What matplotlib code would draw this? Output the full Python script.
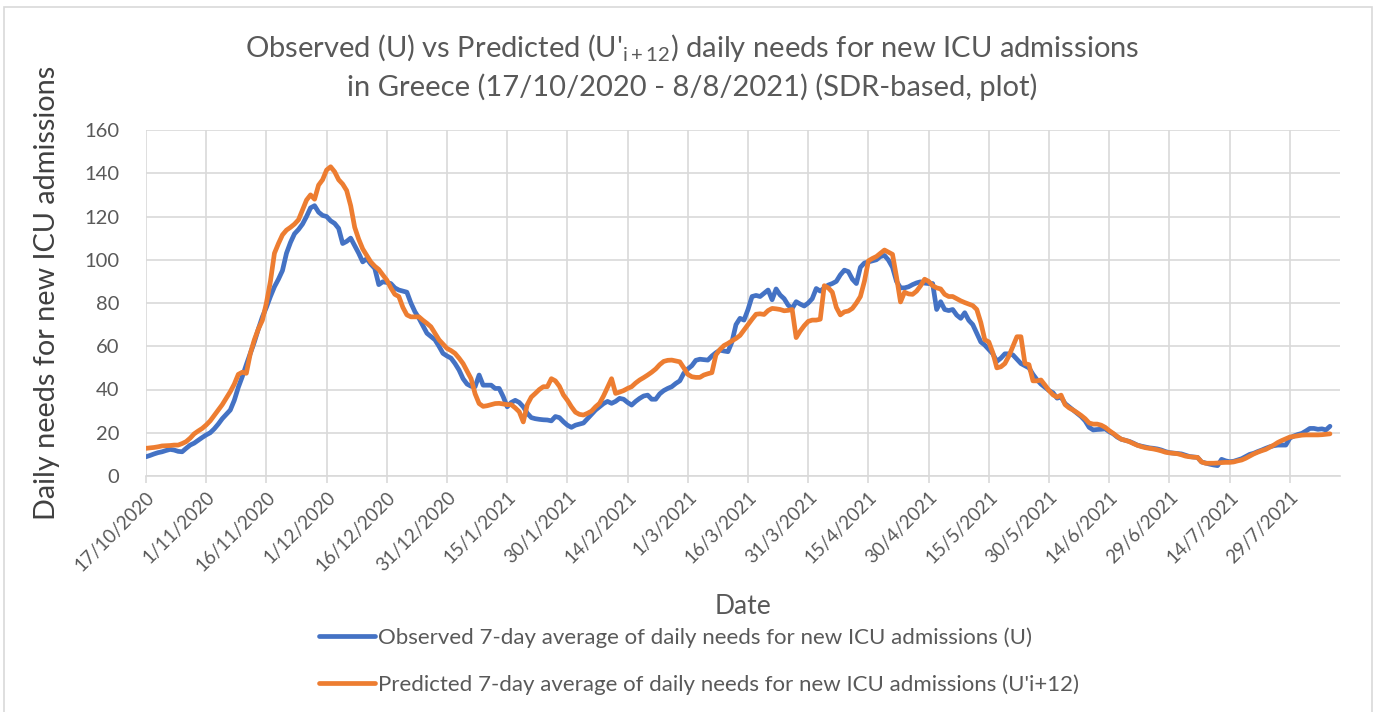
import matplotlib
matplotlib.use("Agg")
import matplotlib.pyplot as plt
import pandas as pd
from matplotlib.patches import Rectangle

# 7-day averages of daily needs for new ICU admissions, Greece, from 17/10/2020 (one value per day)
observed = [
    8.9, 9.5, 10.2, 10.8, 11.2, 11.8, 12.3, 12.0, 11.4, 11.2,
    12.8, 14.3, 15.2, 16.5, 17.8, 19.0, 20.0, 21.8, 24.0, 26.5,
    28.5, 30.5, 35.0, 41.0, 46.0, 51.5, 56.7, 62.0, 68.0, 73.6,
    78.0, 83.0, 87.5, 91.0, 95.0, 103.0, 108.0, 112.0, 114.0, 116.5,
    120.0, 124.0, 125.0, 122.0, 120.5, 120.0, 118.0, 116.8, 114.5, 107.5,
    108.5, 110.0, 106.5, 103.0, 99.0, 100.5, 98.0, 96.0, 88.5, 89.8,
    89.5, 89.0, 87.0, 86.0, 85.5, 85.0, 80.0, 76.0, 73.0, 69.5,
    66.0, 64.5, 63.0, 60.0, 56.7, 55.5, 54.5, 52.0, 49.0, 45.0,
    42.5, 41.5, 41.3, 46.7, 42.0, 42.0, 42.0, 40.5, 40.5, 36.7,
    32.0, 34.0, 35.0, 34.0, 32.0, 29.0, 27.0, 26.5, 26.2, 26.0,
    25.9, 25.5, 27.5, 27.0, 25.1, 23.5, 22.5, 23.5, 24.0, 24.5,
    26.5, 28.5, 30.5, 32.0, 33.5, 34.5, 33.6, 34.5, 35.9, 35.5,
    34.0, 32.8, 34.5, 35.9, 37.0, 37.4, 35.5, 35.5, 38.0, 39.5,
    40.5, 41.3, 42.8, 44.0, 47.5, 49.5, 51.0, 53.5, 54.0, 53.8,
    53.6, 55.5, 57.0, 58.2, 57.8, 57.5, 62.0, 70.0, 72.9, 72.1,
    77.0, 83.0, 83.5, 83.0, 84.5, 86.0, 81.5, 86.5, 83.7, 82.0,
    79.0, 77.5, 80.6, 79.5, 78.6, 80.0, 82.0, 86.7, 85.5, 87.0,
    88.3, 89.0, 90.0, 93.0, 95.2, 94.5, 91.0, 89.0, 96.5, 98.5,
    99.0, 99.5, 100.0, 101.5, 102.0, 99.8, 96.5, 90.0, 87.0, 87.0,
    87.5, 88.5, 89.3, 89.8, 89.2, 89.0, 89.0, 77.0, 80.6, 77.0,
    76.5, 77.0, 74.4, 72.9, 75.5, 72.0, 70.0, 66.0, 62.0, 60.5,
    58.5, 56.5, 53.0, 54.5, 56.5, 56.5, 56.0, 54.0, 52.0, 51.0,
    50.0, 47.0, 44.5, 42.5, 41.0, 39.5, 38.5, 36.0, 36.5, 33.5,
    32.0, 30.5, 29.0, 27.5, 25.5, 22.5, 21.3, 21.5, 21.6, 21.8,
    20.5, 19.5, 18.0, 17.0, 16.5, 16.0, 15.2, 14.3, 13.8, 13.4,
    13.0, 12.8, 12.5, 12.0, 11.3, 10.8, 10.6, 10.4, 10.2, 9.6,
    9.0, 8.8, 8.6, 6.5, 6.0, 5.5, 5.1, 4.8, 7.7, 7.0,
    6.6, 6.8, 7.4, 8.0, 9.0, 10.0, 10.5, 11.3, 12.0, 12.8,
    13.5, 14.0, 14.3, 14.3, 14.3, 17.5, 18.5, 19.2, 19.7, 20.8,
    22.0, 22.0, 21.6, 21.8, 21.3, 23.0,
]

predicted = [
    12.8, 13.0, 13.2, 13.5, 13.9, 14.0, 14.1, 14.3, 14.3, 15.0,
    15.9, 17.5, 19.5, 20.8, 22.0, 23.6, 25.5, 28.0, 30.5, 33.0,
    36.0, 39.0, 42.5, 47.0, 48.0, 47.5, 56.7, 63.0, 68.0, 72.0,
    80.0, 90.0, 103.0, 107.5, 111.5, 113.7, 115.0, 116.5, 118.5, 123.0,
    127.6, 130.0, 128.0, 134.5, 137.0, 141.5, 143.0, 140.7, 137.0, 135.0,
    132.0, 125.0, 115.0, 109.5, 105.0, 102.0, 99.0, 97.0, 95.5, 93.0,
    90.6, 87.0, 84.0, 83.0, 78.0, 74.5, 73.6, 73.6, 73.6, 72.0,
    70.6, 69.0, 66.0, 63.0, 61.0, 59.0, 58.0, 56.7, 54.5, 52.0,
    48.5, 45.0, 38.0, 33.5, 32.2, 32.5, 33.0, 33.5, 33.6, 33.3,
    33.0, 33.0, 31.5, 29.7, 25.0, 33.0, 36.5, 38.2, 40.0, 41.3,
    41.3, 45.0, 44.0, 41.5, 37.5, 35.0, 32.0, 29.5, 28.5, 28.2,
    29.0, 30.0, 32.0, 33.6, 37.0, 41.0, 45.0, 38.2, 38.8, 39.5,
    40.5, 41.3, 43.0, 44.4, 45.5, 46.7, 48.0, 49.5, 51.5, 53.0,
    53.5, 53.6, 53.2, 52.8, 50.0, 47.0, 45.9, 45.6, 45.6, 46.7,
    47.3, 47.8, 56.0, 58.5, 60.3, 61.3, 62.5, 63.6, 65.0, 67.5,
    70.0, 72.5, 74.8, 75.0, 74.7, 76.5, 77.5, 77.3, 77.0, 76.4,
    76.6, 77.0, 64.0, 67.0, 69.5, 71.5, 72.1, 72.1, 72.5, 88.0,
    87.0, 85.0, 78.0, 74.5, 75.9, 76.3, 77.5, 80.0, 83.0, 90.0,
    99.5, 100.6, 101.5, 103.0, 104.5, 103.5, 102.5, 92.0, 80.5, 85.0,
    84.2, 84.0, 85.5, 88.0, 91.0, 90.0, 88.0, 87.0, 86.5, 84.0,
    83.0, 83.0, 82.0, 81.0, 80.2, 79.5, 78.8, 77.0, 71.0, 63.0,
    62.0, 57.0, 50.0, 50.5, 52.0, 55.5, 60.0, 64.4, 64.4, 52.0,
    51.5, 44.0, 44.0, 44.4, 42.0, 39.5, 37.5, 36.5, 37.4, 33.0,
    31.5, 30.5, 29.3, 28.0, 26.5, 24.5, 24.0, 24.0, 23.5, 22.5,
    21.0, 19.7, 18.3, 17.0, 16.5, 15.9, 15.0, 14.2, 13.6, 13.1,
    12.8, 12.5, 12.1, 11.6, 11.0, 10.7, 10.5, 10.3, 9.8, 9.2,
    8.9, 8.7, 8.6, 6.5, 5.9, 5.9, 5.9, 6.0, 6.2, 6.3,
    6.3, 6.5, 7.0, 7.4, 8.2, 9.2, 10.2, 11.0, 11.7, 12.3,
    13.3, 14.3, 15.5, 16.4, 17.2, 18.0, 18.3, 18.6, 18.9, 19.0,
    19.0, 19.0, 19.0, 19.1, 19.3, 19.5,
]

start_date = "2020-10-17"
tick_step_days = 15
y_ticks = [0, 20, 40, 60, 80, 100, 120, 140, 160]

observed_label = "Observed 7-day average of daily needs for new ICU admissions (U)"
predicted_label = "Predicted 7-day average of daily needs for new ICU admissions (U'i+12)"

plt.rcParams["font.family"] = ["Lato", "DejaVu Sans"]
plt.rcParams["mathtext.fontset"] = "custom"
plt.rcParams["mathtext.rm"] = "Lato"
plt.rcParams["mathtext.it"] = "Lato:italic"

BLUE = "#4472C4"
ORANGE = "#ED7D31"
GRID = "#D9D9D9"
TEXT = "#595959"

dates = pd.date_range(start_date, periods=len(observed), freq="D")
x = list(range(len(observed)))
tick_pos = x[::tick_step_days]
tick_labels = [f"{d.day}/{d.month}/{d.year}" for d in dates[::tick_step_days]]

W, H = 1377, 712
fig = plt.figure(figsize=(W / 100, H / 100), dpi=100)
fig.patch.set_facecolor("white")

# chart-area border
fig.patches.append(Rectangle((4 / W, -0.05), 1368 / W, 1.05 - 7 / H, transform=fig.transFigure,
                             fill=False, edgecolor=GRID, linewidth=1.2))

ax = fig.add_axes([146 / W, (H - 476) / H, (1340 - 146) / W, (476 - 130) / H])
ax.plot(x, observed, color=BLUE, linewidth=3.4, solid_joinstyle="round", solid_capstyle="round",
        label=observed_label, zorder=3)
ax.plot(x, predicted, color=ORANGE, linewidth=3.4, solid_joinstyle="round", solid_capstyle="round",
        label=predicted_label, zorder=4)

ax.set_xlim(0, 297.5)
ax.set_ylim(0, 160)
ax.set_yticks(y_ticks)
ax.set_xticks(tick_pos)
ax.set_xticklabels(tick_labels, rotation=45, ha="right", rotation_mode="anchor")

ax.grid(True, color=GRID, linewidth=1.2, zorder=0)
ax.set_axisbelow(True)
for side in ["top", "right", "left"]:
    ax.spines[side].set_visible(False)
ax.spines["bottom"].set_color(GRID)
ax.spines["bottom"].set_linewidth(1.2)

ax.tick_params(axis="x", colors=GRID, length=5, width=1.2, labelcolor=TEXT, labelsize=13.5, pad=4)
ax.tick_params(axis="y", length=0, labelcolor=TEXT, labelsize=14.5, pad=19)

ax.set_xlabel("Date", fontsize=19, color=TEXT, labelpad=14)
fig.text(47 / W, 1 - 293 / H, "Daily needs for new ICU admissions", rotation=90,
         ha="center", va="center", fontsize=20.8, color="#404040")

fig.text(692 / W, 1 - 48 / H,
         "Observed (U) vs Predicted (U'$_{\\mathrm{i+12}}$) daily needs for new ICU admissions",
         ha="center", va="center", fontsize=21, color=TEXT)
fig.text(692 / W, 1 - 87 / H, "in Greece (17/10/2020 - 8/8/2021) (SDR-based, plot)",
         ha="center", va="center", fontsize=21, color=TEXT)

fig.legend(loc="upper left", bbox_to_anchor=(319 / W, 1 - 627 / H), frameon=False,
           fontsize=16, labelcolor=TEXT, handlelength=2.5, handletextpad=0.15,
           labelspacing=1.2, borderpad=0, borderaxespad=0)

fig.savefig("out.png", dpi=100, facecolor="white")
